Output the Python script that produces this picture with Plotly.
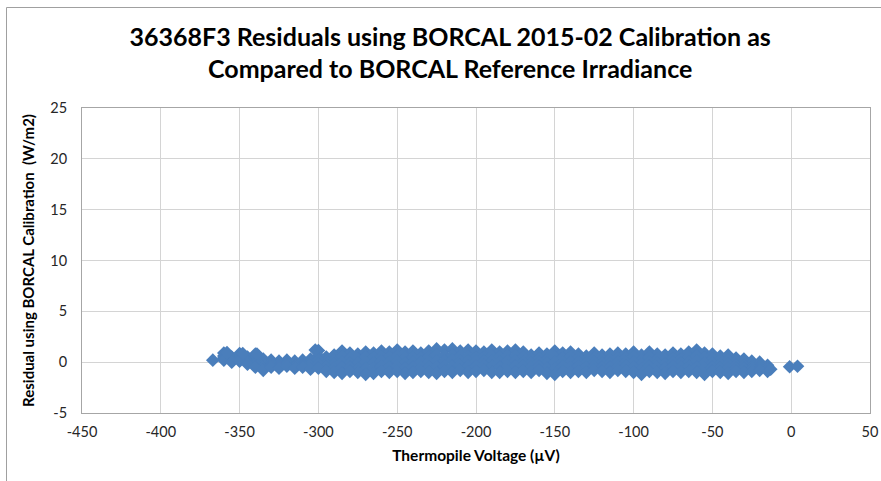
import plotly.graph_objects as go

# Thermopile voltage grid (µV)
voltage = [-360, -355, -350, -345, -340, -335, -330, -325, -320, -315, -310, -305,
           -300, -295, -290, -285, -280, -275, -270, -265, -260, -255, -250, -245,
           -240, -235, -230, -225, -220, -215, -210, -205, -200, -195, -190, -185,
           -180, -175, -170, -165, -160, -155, -150, -145, -140, -135, -130, -125,
           -120, -115, -110, -105, -100, -95, -90, -85, -80, -75, -70, -65,
           -60, -55, -50, -45, -40, -35, -30, -25, -20, -15]

# Residuals (W/m2), upper edge of the cloud to lower edge
residual_top = [0.9, 0.5, 0.85, 0.5, 0.8, 0.3, 0.2, 0.1, 0.2, 0.1, 0.2, 0.3,
                1.15, 0.5, 0.7, 1.1, 0.9, 0.8, 1.0, 0.9, 1.1, 1.0, 1.2, 1.0,
                1.1, 0.9, 1.1, 1.3, 1.2, 1.3, 1.1, 1.2, 1.1, 1.0, 1.2, 1.0,
                1.1, 1.2, 1.0, 0.7, 0.9, 0.8, 1.1, 0.9, 1.0, 0.8, 0.6, 0.9,
                0.7, 0.8, 0.9, 0.8, 1.0, 0.7, 1.0, 0.8, 0.7, 0.9, 0.8, 1.0,
                1.2, 0.9, 0.8, 0.6, 0.7, 0.4, 0.3, 0.1, 0.0, -0.3]
residual_upper = [0.6, 0.3, 0.5, 0.3, 0.4, 0.0, 0.0, -0.1, 0.0, -0.1, 0.0, 0.0,
                  0.6, 0.1, 0.2, 0.6, 0.4, 0.3, 0.5, 0.4, 0.5, 0.5, 0.6, 0.5,
                  0.5, 0.4, 0.5, 0.7, 0.6, 0.7, 0.6, 0.6, 0.5, 0.5, 0.6, 0.5,
                  0.6, 0.6, 0.5, 0.3, 0.4, 0.3, 0.5, 0.4, 0.5, 0.4, 0.2, 0.4,
                  0.3, 0.3, 0.4, 0.4, 0.5, 0.2, 0.5, 0.3, 0.3, 0.4, 0.3, 0.5,
                  0.6, 0.4, 0.3, 0.2, 0.2, 0.1, 0.0, -0.1, -0.2, -0.4]
residual_middle = [0.4, 0.2, 0.3, 0.1, 0.0, -0.2, -0.1, -0.2, -0.1, -0.3, -0.2, -0.2,
                   0.2, -0.2, -0.2, 0.0, -0.1, -0.1, 0.0, -0.1, 0.1, 0.0, 0.1, -0.1,
                   0.0, 0.0, 0.0, 0.1, 0.1, 0.2, 0.1, 0.1, 0.1, 0.1, 0.1, 0.0,
                   0.1, 0.1, 0.0, -0.1, 0.0, -0.1, 0.0, 0.0, 0.0, 0.0, -0.1, 0.0,
                   -0.1, -0.1, 0.0, 0.0, 0.0, -0.2, 0.0, -0.1, -0.2, 0.0, -0.1, 0.0,
                   0.1, -0.1, -0.1, -0.2, -0.2, -0.3, -0.3, -0.4, -0.4, -0.6]
residual_lower = [0.3, 0.1, 0.2, 0.0, -0.2, -0.5, -0.3, -0.4, -0.2, -0.4, -0.3, -0.4,
                  -0.2, -0.5, -0.6, -0.5, -0.5, -0.6, -0.6, -0.6, -0.4, -0.5, -0.4, -0.6,
                  -0.5, -0.5, -0.5, -0.5, -0.4, -0.4, -0.3, -0.4, -0.4, -0.3, -0.4, -0.5,
                  -0.4, -0.4, -0.4, -0.5, -0.4, -0.6, -0.6, -0.4, -0.5, -0.4, -0.5, -0.4,
                  -0.5, -0.5, -0.4, -0.4, -0.5, -0.7, -0.4, -0.5, -0.6, -0.4, -0.5, -0.4,
                  -0.5, -0.6, -0.5, -0.6, -0.6, -0.6, -0.6, -0.6, -0.6, -0.7]
residual_bottom = [0.2, 0.0, 0.1, -0.2, -0.5, -0.8, -0.5, -0.6, -0.4, -0.6, -0.5, -0.7,
                   -0.6, -0.9, -1.0, -1.1, -0.9, -1.0, -1.2, -1.1, -0.9, -1.0, -0.9, -1.1,
                   -1.0, -0.9, -1.0, -1.1, -0.9, -1.0, -0.8, -1.0, -0.9, -0.8, -1.0, -1.0,
                   -0.9, -1.0, -0.9, -1.0, -0.8, -1.1, -1.2, -0.9, -1.0, -0.9, -1.0, -0.8,
                   -0.9, -1.0, -0.8, -0.9, -1.0, -1.2, -0.9, -1.0, -1.1, -0.9, -1.0, -0.9,
                   -1.0, -1.2, -0.9, -1.0, -1.1, -0.9, -1.0, -0.9, -0.8, -0.9]

# Isolated points
extra_voltage = [-367, -358, -348, -339, -302, -13, -1, 4]
extra_residual = [0.2, 0.95, 0.85, 0.8, 1.2, -0.7, -0.45, -0.4]

x_ticks = [-450, -400, -350, -300, -250, -200, -150, -100, -50, 0, 50]
x_tick_labels = ["-450", "-400", "-350", "-300", "-250", "-200", "-150", "-100", "-50", "0", "50"]
y_ticks = [-5, 0, 5, 10, 15, 20, 25]
y_tick_labels = ["-5", "0", "5", "10", "15", "20", "25"]

all_x = voltage * 5 + extra_voltage
all_y = (residual_top + residual_upper + residual_middle + residual_lower
         + residual_bottom + extra_residual)

fig = go.Figure()
fig.add_trace(go.Scatter(
    x=all_x, y=all_y, mode="markers",
    marker=dict(symbol="diamond", size=10.5, color="#4A7EBB", line=dict(width=0)),
    showlegend=False, hoverinfo="x+y",
))

font_family = "Lato, 'Open Sans', sans-serif"

fig.update_layout(
    width=881, height=481,
    margin=dict(l=82, r=11, t=108, b=68, autoexpand=False),
    paper_bgcolor="white", plot_bgcolor="white",
    title=dict(
        text="36368F3 Residuals using BORCAL 2015-02 Calibration as<br>Compared to BORCAL Reference Irradiance",
        x=0.511, xanchor="center", y=0.905, yanchor="middle",
        font=dict(family=font_family, size=25, color="black", weight="bold"),
    ),
    font=dict(family=font_family, size=13, color="#262626"),
    xaxis=dict(
        range=[-450, 50], tickvals=x_ticks, ticktext=x_tick_labels,
        showgrid=True, gridcolor="#D4D4D4", automargin=False,
        gridwidth=1, zeroline=False, showline=True, linecolor="#A6A6A6",
        mirror=True, ticks="", tickfont=dict(size=14.5, color="#262626"),
        ticklabelstandoff=6,
        title=dict(text="Thermopile Voltage (µV)", standoff=10,
                   font=dict(size=15.5, color="black", weight="bold")),
    ),
    yaxis=dict(
        range=[-5, 25], tickvals=y_ticks, ticktext=y_tick_labels,
        showgrid=True, gridcolor="#D4D4D4", automargin=False,
        gridwidth=1, zeroline=False, showline=True, linecolor="#A6A6A6",
        mirror=True, ticks="", tickfont=dict(size=14.5, color="#262626"),
        ticklabelstandoff=11,
        title=dict(text="Residual using BORCAL Calibration  (W/m2)", standoff=12,
                   font=dict(size=15, color="black", weight="bold")),
    ),
    shapes=[
        dict(type="rect", xref="paper", yref="paper", x0=-0.0958, x1=1.05,
             y0=-0.4, y1=1.3295, line=dict(color="#A0A0A0", width=1),
             fillcolor="rgba(0,0,0,0)", layer="above"),
    ],
)

fig.write_html(
    "out.html",
    config={"displayModeBar": False},
    post_script="document.body.style.margin='0';document.body.style.overflow='hidden';",
)
